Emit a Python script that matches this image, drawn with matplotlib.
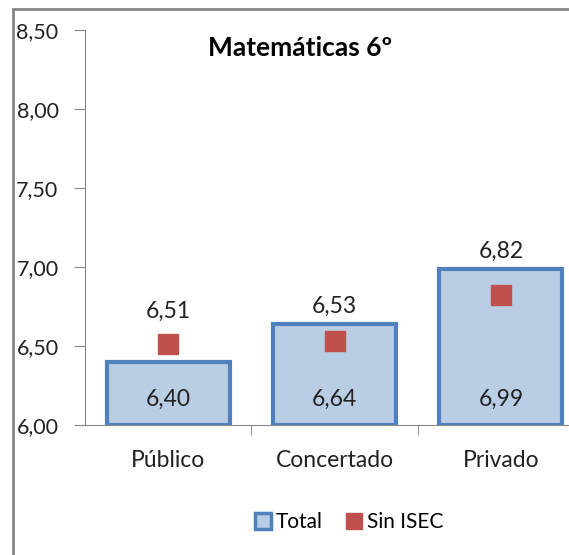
import matplotlib.pyplot as plt
from matplotlib.patches import Rectangle
from matplotlib.lines import Line2D
from matplotlib.ticker import FixedLocator

categories = ["Público", "Concertado", "Privado"]
total = [6.40, 6.64, 6.99]
sin_isec = [6.51, 6.53, 6.82]
yticks = [6.00, 6.50, 7.00, 7.50, 8.00, 8.50]

plt.rcParams['font.family'] = ['Lato', 'DejaVu Sans']

W, H = 569, 555
fig = plt.figure(figsize=(W / 100, H / 100), dpi=100)

# outer chart border (cropped on the right / bottom)
fig.patches.append(Rectangle((13 / W, -0.1), 1.2, 1.1 - 9 / H,
                             transform=fig.transFigure, fill=False,
                             edgecolor='#868686', linewidth=2))

# axes extend past the right edge, like the cropped original
ax = fig.add_axes([85 / W, 1 - 425 / H, 499 / W, 395 / H])
x = range(len(categories))
ax.bar(x, [t - 6 for t in total], bottom=6, width=0.74,
       color='#b9cde5', edgecolor='#4f81bd', linewidth=3, zorder=2)
ax.scatter(x, sin_isec, marker='s', s=200, color='#c0504d', zorder=3)

for i in x:
    ax.text(i, 6.16, f"{total[i]:.2f}".replace('.', ','), ha='center',
            va='center', fontsize=16.5, color='#222222', zorder=4)
    ylab = max(sin_isec[i] + 0.21, total[i] + 0.11)
    ax.text(i, ylab, f"{sin_isec[i]:.2f}".replace('.', ','),
            ha='center', va='center', fontsize=16.5, color='#222222', zorder=4)

ax.set_xlim(-0.5, 2.5)
ax.set_ylim(6, 8.5)
ax.set_yticks(yticks)
ax.set_yticklabels([f"{v:.2f}".replace('.', ',') for v in yticks])
ax.set_xticks(list(x))
ax.set_xticklabels(categories)
ax.xaxis.set_minor_locator(FixedLocator([0.5, 1.5]))
ax.tick_params(axis='x', which='major', length=0, pad=18, labelsize=16.5,
               labelcolor='#222222')
ax.tick_params(axis='x', which='minor', length=7, color='#868686')
ax.tick_params(axis='y', length=8, color='#868686', pad=11, labelsize=15.5,
               labelcolor='#222222')
for s in ['top', 'right']:
    ax.spines[s].set_visible(False)
for s in ['left', 'bottom']:
    ax.spines[s].set_color('#868686')

fig.text(300 / W, 1 - 48 / H, "Matemáticas 6º", ha='center', va='center',
         fontsize=19, fontweight='bold', color='#000000')

handles = [Line2D([], [], marker='s', linestyle='none', markersize=11,
                  markerfacecolor='#b9cde5', markeredgecolor='#4f81bd',
                  markeredgewidth=2.5, label='Total'),
           Line2D([], [], marker='s', linestyle='none', markersize=11,
                  markerfacecolor='#c0504d', markeredgecolor='#c0504d',
                  label='Sin ISEC')]
fig.legend(handles=handles, loc='center', bbox_to_anchor=(348 / W, 1 - 522 / H),
           ncol=2, frameon=False, fontsize=15, handletextpad=0.1,
           columnspacing=1.0, handlelength=1)

fig.savefig('out.png', dpi=100)
